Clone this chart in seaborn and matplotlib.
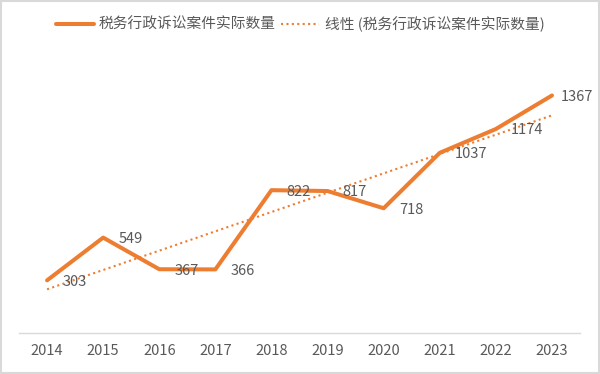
import numpy as np
import pandas as pd
import matplotlib.pyplot as plt
import seaborn as sns
from matplotlib.lines import Line2D
from matplotlib.patches import Rectangle

# -----------------------------
# Data
# -----------------------------
years = [2014, 2015, 2016, 2017, 2018, 2019, 2020, 2021, 2022, 2023]
cases = [303, 549, 367, 366, 822, 817, 718, 1037, 1174, 1367]

series_label = "税务行政诉讼案件实际数量"
trend_label = "线性 (税务行政诉讼案件实际数量)"

ORANGE = "#ED7D31"
GRAY_TEXT = "#595959"

df = pd.DataFrame({"year": years, "cases": cases})

sns.set_theme(style="white")
plt.rcParams["font.family"] = ["Noto Sans CJK SC", "DejaVu Sans"]

fig = plt.figure(figsize=(6, 3.74), dpi=100)
ax = fig.add_axes([0.0317, 0.1096, 0.935, 0.7434])

# -----------------------------
# Actual line + linear trend
# -----------------------------
sns.lineplot(data=df, x="year", y="cases", color=ORANGE, linewidth=2.9, ax=ax)

sns.regplot(
    data=df,
    x="year",
    y="cases",
    scatter=False,
    ci=None,
    truncate=True,
    color=ORANGE,
    line_kws={"linestyle": (0, (1, 1.6)), "linewidth": 1.5},
    ax=ax,
)

for i, (x, y) in enumerate(zip(years, cases)):
    # last label sits closer to the point so it stays inside the frame
    dx = 6 if i == len(years) - 1 else 11
    ax.annotate(
        str(y),
        (x, y),
        xytext=(dx, -1),
        textcoords="offset points",
        ha="left",
        va="center",
        fontsize=10.5,
        color=GRAY_TEXT,
    )

# -----------------------------
# Axes styling
# -----------------------------
ax.set_xlim(years[0] - 0.5, years[-1] + 0.5)
ax.set_ylim(0, 1600)
ax.set_xticks(years)
ax.set_xticklabels([str(y) for y in years], fontsize=10.5, color=GRAY_TEXT)
ax.set_yticks([])
ax.set_xlabel("")
ax.set_ylabel("")
ax.tick_params(axis="x", length=0, pad=8)

for side in ["top", "left", "right"]:
    ax.spines[side].set_visible(False)
ax.spines["bottom"].set_color("#D9D9D9")
ax.spines["bottom"].set_linewidth(1)

# -----------------------------
# Legend
# -----------------------------
handles = [
    Line2D([0], [0], color=ORANGE, linewidth=2.9),
    Line2D([0], [0], color=ORANGE, linewidth=1.5, linestyle=(0, (1, 1.6))),
]
fig.legend(
    handles,
    [series_label, trend_label],
    loc="center",
    bbox_to_anchor=(0.5, 0.935),
    ncol=2,
    frameon=False,
    fontsize=10.6,
    labelcolor=GRAY_TEXT,
    handlelength=2.6,
    handletextpad=0.35,
    columnspacing=0.35,
)

# outer border
fig.patches.append(
    Rectangle((0.002, 0.003), 0.996, 0.994, transform=fig.transFigure,
              fill=False, edgecolor="#D9D9D9", linewidth=1.5)
)

fig.savefig("out.png", dpi=100)
plt.close()
